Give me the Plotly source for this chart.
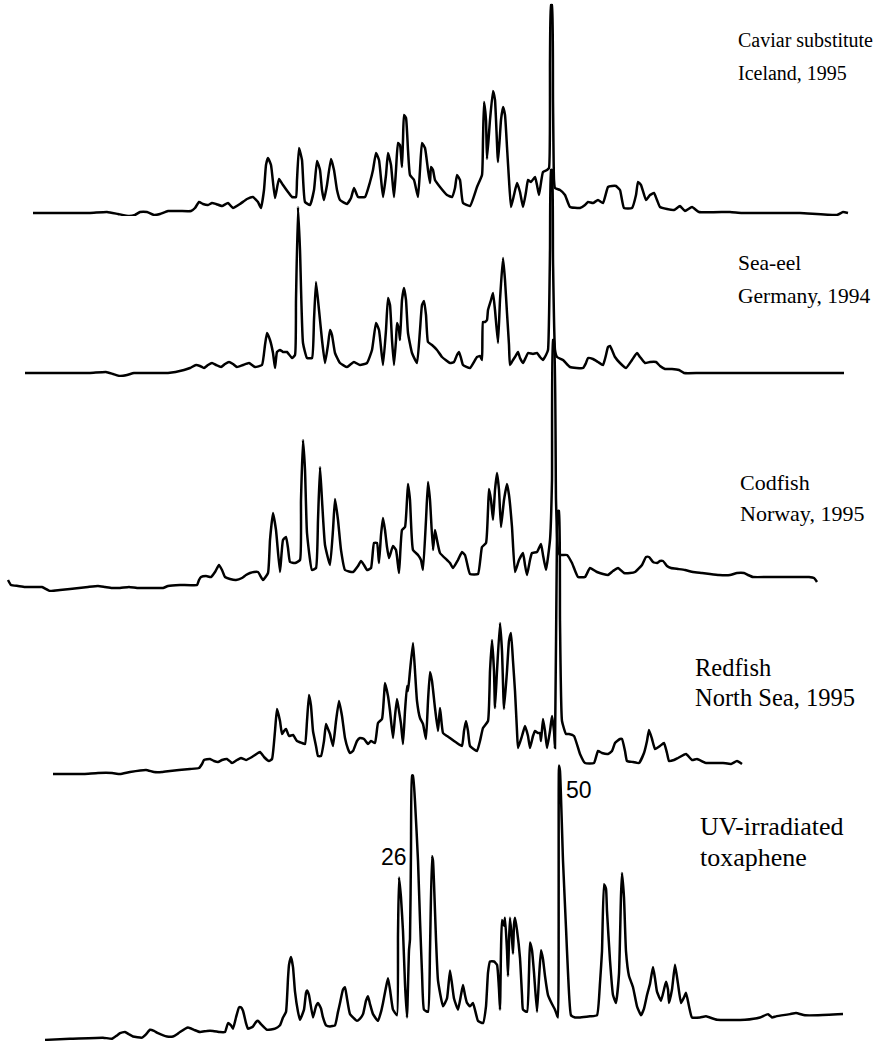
import plotly.graph_objects as go

# Gas chromatograms (retention position, detector response)
caviar = [(33,3),(60,3),(90,3),(107,4),(118,2),(129,0),(135,1),(140,4),(147,4),(154,1),(160,2),(168,5),(180,5),(191,5),(195,8),(199,14),(203,12),(208,11),(212,13),(216,12),(222,10),(228,13),(233,8),(240,12),(247,17),(253,19),(258,14),(261,8),(264,26),(266,51),(268,58),(271,51),(275,18),(279,37),(283,31),(288,24),(292,19),(296,19),(297,36),(299,68),(302,56),(305,14),(310,11),(314,26),(317,55),(320,46),(322,26),(324,16),(327,31),(331,57),(334,46),(337,26),(340,16),(347,12),(351,18),(354,28),(358,19),(365,19),(370,34),(373,46),(376,63),(379,56),(383,19),(386,41),(388,63),(391,51),(394,19),(396,46),(398,73),(400,71),(402,49),(403,76),(404,101),(406,98),(408,66),(410,41),(414,36),(418,19),(420,46),(422,73),(425,68),(428,46),(430,33),(431,49),(433,46),(435,36),(440,29),(447,21),(452,19),(455,28),(457,41),(460,36),(463,13),(470,10),(477,29),(482,41),(483,76),(484,114),(486,96),(487,57),(490,96),(493,125),(495,116),(498,54),(501,96),(503,109),(505,101),(507,69),(509,36),(511,9),(514,21),(517,33),(520,24),(523,9),(526,24),(528,36),(531,34),(535,39),(537,31),(539,21),(543,44),(547,46),(549,48),(550,156),(551,211),(552,211),(553,116),(554,36),(555,28),(560,26),(565,21),(570,9),(580,8),(585,11),(588,14),(593,13),(598,16),(603,13),(608,29),(612,30),(616,30),(620,26),(624,8),(632,8),(636,21),(638,34),(641,31),(646,16),(650,21),(654,23),(657,16),(660,9),(667,7),(674,6),(680,10),(685,5),(692,9),(699,4),(730,4),(742,3),(800,3),(837,1),(843,4),(848,3)]

sea_eel = [(25,4),(60,4),(90,4),(106,5),(113,3),(120,1),(127,2),(134,4),(150,4),(168,4),(184,7),(190,9),(196,12),(200,11),(204,9),(208,12),(212,14),(216,12),(221,10),(225,13),(229,15),(233,13),(237,10),(243,12),(249,14),(255,10),(262,12),(265,32),(267,44),(270,37),(273,24),(275,9),(277,25),(280,27),(283,25),(287,25),(292,19),(295,22),(296,77),(298,170),(300,127),(303,34),(307,19),(312,19),(314,57),(316,95),(319,67),(322,37),(325,14),(328,32),(330,47),(332,42),(335,24),(340,14),(347,10),(351,13),(354,15),(360,12),(367,14),(372,27),(376,54),(379,47),(383,12),(386,47),(388,79),(390,72),(392,37),(394,12),(396,37),(397,54),(399,47),(400,37),(402,77),(404,89),(406,77),(408,44),(412,24),(417,14),(420,47),(422,72),(424,76),(426,62),(428,35),(432,32),(437,27),(442,20),(450,14),(454,15),(457,22),(459,25),(461,19),(463,12),(470,9),(477,20),(480,21),(482,17),(483,55),(485,55),(487,57),(488,67),(491,77),(493,84),(495,67),(498,34),(500,77),(503,119),(505,97),(507,64),(509,32),(510,12),(513,17),(515,20),(518,25),(520,19),(523,14),(526,20),(528,24),(533,23),(537,24),(540,20),(543,17),(546,22),(548,27),(550,127),(551,207),(552,207),(553,117),(555,27),(557,20),(563,17),(570,10),(583,9),(586,14),(588,19),(593,18),(598,15),(603,12),(606,22),(608,30),(610,31),(612,27),(615,20),(620,14),(626,9),(632,17),(637,24),(640,20),(645,14),(650,15),(656,15),(660,11),(665,8),(672,8),(679,7),(684,4),(700,4),(760,4),(800,4),(844,4)]

codfish = [(8,12),(11,7),(18,6),(25,5),(35,5),(42,5),(50,1),(60,2),(70,3),(79,4),(88,5),(98,6),(105,5),(112,4),(120,4),(129,5),(137,4),(146,4),(155,4),(163,4),(168,6),(180,7),(197,7),(199,12),(201,15),(206,16),(211,15),(215,20),(219,27),(222,22),(225,15),(230,13),(236,12),(242,14),(246,17),(250,19),(254,20),(258,20),(263,12),(268,19),(270,52),(273,79),(276,62),(280,20),(283,52),(286,55),(288,44),(290,30),(295,29),(300,32),(301,92),(303,152),(305,122),(307,59),(312,22),(316,24),(318,72),(320,125),(322,92),(325,47),(330,27),(333,62),(335,93),(338,72),(341,42),(345,22),(353,20),(358,26),(361,31),(364,27),(367,22),(371,24),(374,49),(377,49),(379,29),(381,57),(383,74),(385,62),(387,45),(389,34),(393,46),(396,42),(399,19),(402,62),(405,65),(407,92),(408,108),(410,92),(413,42),(418,37),(421,32),(423,22),(426,72),(428,110),(430,92),(433,42),(435,62),(437,52),(440,39),(447,32),(450,29),(453,24),(458,32),(462,40),(465,37),(467,29),(470,18),(478,18),(482,45),(486,49),(488,82),(489,103),(491,92),(493,72),(495,102),(497,119),(499,102),(501,65),(504,92),(507,108),(509,97),(512,65),(515,20),(519,32),(523,39),(525,27),(527,17),(530,32),(532,39),(537,40),(541,48),(543,37),(546,22),(550,52),(552,112),(553,252),(554,252),(556,92),(558,42),(560,37),(567,37),(572,29),(578,15),(585,15),(590,24),(597,20),(603,18),(608,17),(613,21),(618,24),(624,19),(630,19),(635,20),(642,27),(646,35),(649,35),(653,30),(657,29),(660,31),(663,31),(667,26),(671,24),(678,23),(685,22),(693,20),(702,19),(710,18),(719,17),(730,17),(737,19),(744,19),(748,17),(753,15),(770,15),(787,15),(800,15),(809,15),(814,14),(817,10)]

redfish = [(53,2),(70,2),(84,2),(98,3),(112,3),(120,2),(130,4),(146,6),(154,4),(162,4),(170,5),(179,6),(190,7),(199,8),(202,12),(204,16),(210,17),(214,15),(218,14),(222,16),(227,17),(232,13),(237,16),(241,18),(246,16),(252,19),(258,23),(260,24),(264,19),(269,15),(272,17),(275,45),(277,67),(280,55),(282,42),(284,45),(286,47),(289,40),(293,41),(297,35),(302,33),(305,32),(307,55),(309,81),(311,70),(313,45),(316,30),(318,20),(321,20),(324,35),(326,52),(328,47),(330,42),(333,30),(336,55),(339,75),(342,60),(345,38),(348,27),(350,23),(353,25),(357,35),(360,38),(364,37),(368,32),(371,35),(375,33),(378,53),(382,57),(384,80),(385,93),(388,80),(390,65),(393,38),(395,60),(397,77),(399,65),(401,52),(403,32),(405,65),(407,90),(408,85),(410,105),(413,133),(415,105),(417,75),(420,58),(423,52),(426,37),(428,75),(430,104),(432,95),(435,68),(438,45),(440,68),(443,43),(447,40),(450,38),(454,35),(457,33),(462,30),(464,45),(466,55),(468,45),(470,30),(477,25),(480,35),(483,48),(488,55),(490,105),(492,136),(494,105),(495,68),(497,105),(500,153),(502,125),(504,67),(507,105),(509,135),(511,143),(513,115),(515,85),(517,45),(518,28),(522,40),(525,50),(528,40),(530,28),(533,40),(535,45),(538,43),(540,43),(541,35),(543,57),(545,45),(547,28),(550,45),(552,60),(554,45),(555,28),(557,245),(558,265),(559,265),(560,155),(562,55),(566,42),(569,42),(574,40),(580,22),(585,13),(594,13),(598,25),(602,23),(608,22),(612,25),(615,33),(620,37),(622,37),(625,25),(627,15),(633,14),(639,13),(644,23),(647,35),(649,46),(652,37),(655,27),(660,30),(664,33),(667,23),(669,15),(674,16),(678,18),(686,22),(692,16),(697,17),(706,13),(715,13),(723,13),(731,12),(737,15),(742,12)]

uv_toxaphene = [(45,1),(70,2),(103,3),(112,2),(117,5),(120,7),(125,8),(129,6),(133,4),(142,3),(146,6),(150,10),(154,9),(158,7),(167,4),(173,4),(177,6),(180,8),(188,12),(194,10),(200,8),(207,9),(213,9),(220,8),(225,8),(228,16),(231,14),(233,11),(236,21),(239,30),(241,30),(243,27),(246,16),(248,11),(253,13),(256,17),(258,18),(261,15),(267,10),(275,11),(280,14),(283,21),(286,26),(288,56),(289,68),(291,75),(293,66),(295,44),(298,26),(300,19),(304,28),(306,43),(307,45),(309,41),(313,21),(316,31),(318,34),(321,29),(323,21),(326,14),(330,13),(335,14),(338,26),(340,34),(343,46),(345,48),(347,38),(350,24),(357,18),(360,20),(363,24),(366,36),(368,40),(370,33),(373,24),(378,18),(381,26),(383,34),(386,48),(388,56),(390,46),(393,28),(397,23),(398,95),(399,146),(401,128),(403,98),(405,51),(407,21),(409,81),(410,91),(411,171),(412,237),(413,237),(415,214),(418,161),(420,108),(422,61),(424,28),(428,26),(430,81),(432,165),(433,161),(434,141),(436,91),(438,54),(443,31),(447,38),(450,63),(452,51),(454,38),(458,28),(461,41),(463,50),(465,41),(467,34),(470,31),(473,34),(478,18),(483,16),(486,31),(488,61),(490,71),(494,71),(497,68),(499,46),(500,28),(501,81),(502,108),(504,103),(505,110),(507,81),(508,58),(509,89),(510,110),(512,91),(513,78),(514,104),(515,110),(517,99),(520,74),(522,41),(523,28),(527,26),(529,61),(530,88),(532,81),(534,61),(537,26),(539,56),(541,81),(543,73),(545,58),(548,41),(552,33),(555,28),(557,23),(558,21),(559,246),(560,241),(563,161),(566,101),(568,61),(571,23),(575,21),(580,21),(590,22),(597,23),(600,52),(602,80),(604,140),(606,136),(607,116),(610,72),(613,41),(616,34),(619,60),(621,130),(622,150),(624,128),(626,80),(629,58),(633,48),(637,31),(641,23),(644,29),(647,41),(650,51),(653,66),(655,56),(657,44),(661,36),(664,46),(666,53),(668,46),(669,34),(672,46),(675,68),(678,51),(681,34),(684,39),(686,43),(689,31),(692,21),(700,21),(706,22),(717,19),(745,19),(760,21),(768,24),(772,21),(776,22),(790,24),(796,25),(805,23),(818,23),(843,24)]

sample_labels = [["Caviar substitute", "Iceland, 1995"], ["Sea-eel", "Germany, 1994"],
                 ["Codfish", "Norway, 1995"], ["Redfish", "North Sea, 1995"],
                 ["UV-irradiated", "toxaphene"]]
peak_labels = ["26", "50"]

series = [caviar, sea_eel, codfish, redfish, uv_toxaphene]

# ---- layout (positions / styles) ----
W, H = 874, 1041
zero_px = [216, 377, 592, 776, 1041]          # pixel row of each trace's zero
px_per_unit = [1.0, 1.0, 1.0, 1.0, 1.12]       # vertical scale of each trace
label_x = [736, 736, 738, 693, 698]
label_y = [(40, 73), (263, 296), (483, 513), (667, 697), (826, 857)]
label_size = [20, 21.5, 22, 24.5, 26]
peak_label_px = [(409, 857, "right"), (564, 790, "left")]

fig = go.Figure()
for i, data in enumerate(series):
    ax = "" if i == 0 else str(i + 1)
    fig.add_trace(go.Scatter(
        x=[p[0] for p in data], y=[p[1] for p in data], mode="lines",
        line=dict(color="black", width=2.5, shape="spline", smoothing=0.4),
        xaxis="x", yaxis="y" + ax, showlegend=False, hoverinfo="skip"))
    fig.layout["yaxis" + ax] = dict(domain=[(H - zero_px[i]) / H, 1],
                                    range=[0, zero_px[i] / px_per_unit[i]],
                                    visible=False, fixedrange=True)

fig.update_layout(
    width=W, height=H, margin=dict(l=0, r=0, t=0, b=0),
    paper_bgcolor="white", plot_bgcolor="rgba(0,0,0,0)",
    xaxis=dict(range=[0, W], visible=False, fixedrange=True),
)

for lines, px, pys, fs in zip(sample_labels, label_x, label_y, label_size):
    for txt, py in zip(lines, pys):
        fig.add_annotation(text=txt, x=px / W, y=1 - py / H, xref="paper", yref="paper",
                           xanchor="left", yanchor="middle", align="left", showarrow=False,
                           font=dict(family="Liberation Serif", size=fs, color="black"))

for txt, (px, py, anchor) in zip(peak_labels, peak_label_px):
    fig.add_annotation(text=txt, x=px / W, y=1 - py / H, xref="paper", yref="paper",
                       xanchor=anchor, yanchor="middle", showarrow=False,
                       font=dict(family="Liberation Sans", size=23, color="black"))

fig.write_html("out.html", config={"displayModeBar": False, "staticPlot": True},
               post_script="document.body.style.margin='0px';")
